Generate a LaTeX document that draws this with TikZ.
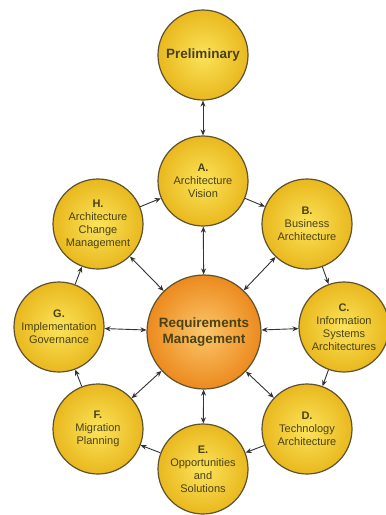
\documentclass[tikz,border=0pt]{standalone}
\usepackage{fontspec}
\setmainfont{Liberation Sans}
\usetikzlibrary{arrows.meta}
\definecolor{ballin}{HTML}{FBE35A}
\definecolor{ballout}{HTML}{E9B81E}
\definecolor{hubin}{HTML}{FBC66A}
\definecolor{hubout}{HTML}{EC8A1E}
\definecolor{rim}{HTML}{5E5230}
\definecolor{ink}{HTML}{4A4216}
\definecolor{wire}{HTML}{333333}
\tikzset{
    x=1pt,
    y=-1pt,
    phase/.style = {
        draw=rim,
        shape=circle,
        inner color=ballin,
        outer color=ballout,
        minimum size=90pt,
        inner sep=0pt,
        line width=1.2pt,
        align=center,
        text=ink,
        font=\fontsize{11}{13}\selectfont
    },
    hub/.style = {
        phase,
        inner color=hubin,
        outer color=hubout,
        minimum size=114pt,
        font=\bfseries\fontsize{13.5}{16}\selectfont
    },
    flow/.style = {
        draw=wire,
        line width=0.9pt,
        -{Stealth[length=6pt,width=5pt]}
    },
    link/.style = {
        flow,
        {Stealth[length=6pt,width=5pt]}-{Stealth[length=6pt,width=5pt]}
    },
}
\begin{document}
\begin{tikzpicture}
            \useasboundingbox[fill=white] (0,0) rectangle (386,515);
            \node[phase] (pre) at (203,55) {\bfseries\fontsize{13.5}{16}\selectfont Preliminary};
            \node[phase] (a) at (203,181) {\textbf{A.}\\Architecture\\Vision};
            \node[phase] (b) at (307,224) {\textbf{B.}\\Business\\Architecture};
            \node[phase] (c) at (344,327) {\textbf{C.}\\Information\\Systems\\Architectures};
            \node[phase] (d) at (307,429) {\textbf{D.}\\Technology\\Architecture};
            \node[phase] (e) at (203,469) {\textbf{E.}\\Opportunities\\and\\Solutions};
            \node[phase] (f) at (98,429) {\textbf{F.}\\Migration\\Planning};
            \node[phase] (g) at (59,327) {\textbf{G.}\\Implementation\\Governance};
            \node[phase] (h) at (98,224) {\textbf{H.}\\Architecture\\Change\\Management};
            \node[hub] (rm) at (204,332) {Requirements\\Management};

            \path[link] (pre) -- (a);
            % cycle A to H
            \path[flow] (a) -- (b);
            \path[flow] (b) -- (c);
            \path[flow] (c) -- (d);
            \path[flow] (d) -- (e);
            \path[flow] (e) -- (f);
            \path[flow] (f) -- (g);
            \path[flow] (g) -- (h);
            \path[flow] (h) -- (a);
            % hub links
            \foreach \p in {a,b,c,d,e,f,g,h}
                \path[link] (rm) -- (\p);
        \end{tikzpicture}
\end{document}
